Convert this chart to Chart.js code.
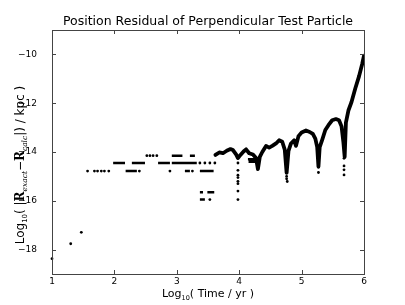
<!DOCTYPE html>
<html lang="en">
<head>
  <meta charset="UTF-8">
  <title>Position Residual of Perpendicular Test Particle</title>
  <style>
    html, body { margin: 0; padding: 0; background: #fff; }
    #wrap { width: 405px; height: 305px; }
  </style>
</head>
<body>
  <div id="wrap"><canvas id="residualChart" width="405" height="305"></canvas></div>

  <script src="https://cdn.jsdelivr.net/npm/chart.js"></script>
  <script>
    // axis ticks
    const xTicks = [1, 2, 3, 4, 5, 6];
    const yTicks = [-18, -16, -14, -12, -10];

    // isolated points (log10 time, log10 residual)
    const dotX = [1.00, 1.30, 1.47,
      1.57, 1.68, 1.73, 1.79, 1.84, 1.91,
      2.40, 2.52, 2.57, 2.62, 2.68, 2.89, 3.25,
      3.37, 3.45, 3.53, 3.61, 3.53,
      3.98, 3.98, 3.98, 3.98, 3.98, 3.98, 3.98, 3.98,
      4.76, 4.76, 4.77,
      5.27, 5.27,
      5.68, 5.68, 5.68, 5.68];
    const dotY = [-18.37, -17.76, -17.29,
      -14.78, -14.78, -14.78, -14.78, -14.78, -14.78,
      -14.78, -14.15, -14.15, -14.15, -14.15, -14.78, -14.78,
      -14.45, -14.45, -14.45, -14.45, -15.95,
      -14.45, -14.75, -14.95, -15.05, -15.20, -15.30, -15.60, -15.95,
      -15.00, -15.10, -15.21,
      -14.62, -14.84,
      -14.26, -14.57, -14.73, -14.94];

    // short horizontal runs of points on the round-off levels
    const segStart = [1.98, 2.28, 2.70, 2.92, 2.18, 3.13, 3.37, 2.92, 3.21, 3.37, 3.49, 3.37, 4.14, 4.15];
    const segEnd   = [2.17, 2.49, 2.89, 3.32, 2.36, 3.21, 3.59, 3.09, 3.29, 3.42, 3.60, 3.45, 4.27, 4.26];
    const segLevel = [-14.45, -14.45, -14.45, -14.45, -14.78, -14.78, -14.78, -14.15, -14.15, -15.65, -15.65, -15.95, -14.30, -14.40];

    // dense part of the residual
    const bandX = [3.62, 3.68, 3.74, 3.80, 3.86, 3.90, 3.95, 3.98, 4.02, 4.07, 4.11, 4.16, 4.22, 4.27, 4.30, 4.33,
      4.37, 4.43, 4.48, 4.53, 4.59, 4.64, 4.69, 4.73, 4.76, 4.79, 4.83, 4.88, 4.91, 4.95, 5.00, 5.07,
      5.13, 5.18, 5.22, 5.25, 5.27, 5.29, 5.33, 5.38, 5.43, 5.49, 5.55, 5.60, 5.64, 5.67, 5.69, 5.71,
      5.75, 5.80, 5.86, 5.92, 5.97, 6.00];
    const bandY = [-14.12, -14.02, -14.05, -13.95, -13.88, -13.92, -14.10, -14.25, -14.12, -13.98, -13.89, -14.05, -14.10, -14.25, -14.70, -14.20,
      -14.00, -13.75, -13.82, -13.75, -13.65, -13.52, -13.58, -13.90, -14.85, -13.95, -13.65, -13.52, -13.75, -13.35, -13.20, -13.12,
      -13.18, -13.26, -13.45, -13.80, -14.60, -13.80, -13.50, -13.10, -12.90, -12.70, -12.65, -12.70, -12.95, -13.60, -14.20, -12.80,
      -12.30, -11.95, -11.40, -10.90, -10.40, -10.05];

    const dots = dotX.map((x, i) => ({ x: x, y: dotY[i] }));
    const segs = [];
    segStart.forEach((s, i) => {
      segs.push({ x: s, y: segLevel[i] }, { x: segEnd[i], y: segLevel[i] }, { x: segEnd[i], y: null });
    });
    const band = bandX.map((x, i) => ({ x: x, y: bandY[i] }));

    const FONT = 'DejaVu Sans';

    // draw a label made of several runs (for subscripts / bold R)
    function richText(ctx, parts, cx, cy, rotate) {
      ctx.save();
      ctx.translate(cx, cy);
      if (rotate) ctx.rotate(-Math.PI / 2);
      let total = 0;
      parts.forEach(p => { ctx.font = p.font; total += ctx.measureText(p.t).width; });
      let x = -total / 2;
      ctx.fillStyle = '#000';
      ctx.textBaseline = 'alphabetic';
      ctx.textAlign = 'left';
      parts.forEach(p => {
        ctx.font = p.font;
        ctx.fillText(p.t, x, p.dy || 0);
        x += ctx.measureText(p.t).width;
      });
      ctx.restore();
    }

    const framePlugin = {
      id: 'frame',
      afterDraw(chart) {
        const ctx = chart.ctx;
        const a = chart.chartArea;
        const xs = chart.scales.x, ys = chart.scales.y;
        ctx.save();
        ctx.strokeStyle = '#444';
        ctx.lineWidth = 1;
        ctx.strokeRect(a.left + 0.5, a.top + 0.5, a.right - a.left, a.bottom - a.top);
        ctx.beginPath();
        xTicks.forEach(v => {
          const px = Math.round(xs.getPixelForValue(v)) + 0.5;
          ctx.moveTo(px, a.bottom); ctx.lineTo(px, a.bottom - 4);
          ctx.moveTo(px, a.top); ctx.lineTo(px, a.top + 4);
        });
        yTicks.forEach(v => {
          const py = Math.round(ys.getPixelForValue(v)) + 0.5;
          ctx.moveTo(a.left, py); ctx.lineTo(a.left + 4, py);
          ctx.moveTo(a.right, py); ctx.lineTo(a.right - 4, py);
        });
        ctx.stroke();

        // title
        ctx.fillStyle = '#000';
        ctx.font = '12.5px ' + FONT;
        ctx.textAlign = 'center';
        ctx.textBaseline = 'alphabetic';
        ctx.fillText('Position Residual of Perpendicular Test Particle', (a.left + a.right) / 2, 25);
        ctx.restore();

        richText(ctx, [
          { t: 'Log', font: '11px ' + FONT },
          { t: '10', font: '6.5px ' + FONT, dy: 2.5 },
          { t: '( Time / yr )', font: '11px ' + FONT }
        ], (a.left + a.right) / 2, 297, false);

        richText(ctx, [
          { t: 'Log', font: '12px ' + FONT },
          { t: '10', font: '7px ' + FONT, dy: 3 },
          { t: '( |', font: '12px ' + FONT },
          { t: 'R', font: 'bold 12px DejaVu Serif' },
          { t: 'exact', font: 'italic 7.5px DejaVu Serif', dy: 3 },
          { t: '\u2212', font: '12px ' + FONT },
          { t: 'R', font: 'bold 12px DejaVu Serif' },
          { t: 'calc', font: 'italic 7.5px DejaVu Serif', dy: 3 },
          { t: '|) / kpc )', font: '12px ' + FONT }
        ], 24, 165, true);
      }
    };

    const ctx = document.getElementById('residualChart').getContext('2d');
    const chart = new Chart(ctx, {
      type: 'scatter',
      data: {
        datasets: [
          {
            type: 'line',
            data: band,
            borderColor: '#000',
            borderWidth: 3.8,
            borderJoinStyle: 'round',
            borderCapStyle: 'round',
            pointRadius: 0,
            tension: 0,
            fill: false
          },
          {
            type: 'line',
            data: segs,
            borderColor: '#000',
            borderWidth: 2.5,
            pointRadius: 0,
            spanGaps: false,
            fill: false
          },
          {
            data: dots,
            backgroundColor: '#000',
            borderWidth: 0,
            pointRadius: 1.4,
            clip: false
          }
        ]
      },
      options: {
        responsive: false,
        animation: false,
        events: [],
        layout: { padding: { top: 30, right: 41, left: 0, bottom: 0 } },
        plugins: {
          legend: { display: false },
          tooltip: { enabled: false },
          title: { display: false }
        },
        scales: {
          x: {
            type: 'linear',
            min: 1,
            max: 6,
            grid: { display: false, drawTicks: false },
            border: { display: false },
            afterFit: s => { s.height = 31; },
            afterBuildTicks: s => { s.ticks = xTicks.map(v => ({ value: v })); },
            ticks: {
              padding: 2,
              autoSkip: false,
              maxRotation: 0,
              color: '#000',
              font: { family: FONT, size: 9 },
              callback: v => String(v)
            }
          },
          y: {
            type: 'linear',
            min: -19,
            max: -9,
            grid: { display: false, drawTicks: false },
            border: { display: false },
            afterFit: s => { s.width = 52; },
            afterBuildTicks: s => { s.ticks = yTicks.map(v => ({ value: v })); },
            ticks: {
              padding: 15,
              autoSkip: false,
              color: '#000',
              font: { family: FONT, size: 9 },
              callback: v => '\u2212' + Math.abs(v)
            }
          }
        }
      },
      plugins: [framePlugin]
    });
  </script>
</body>
</html>
